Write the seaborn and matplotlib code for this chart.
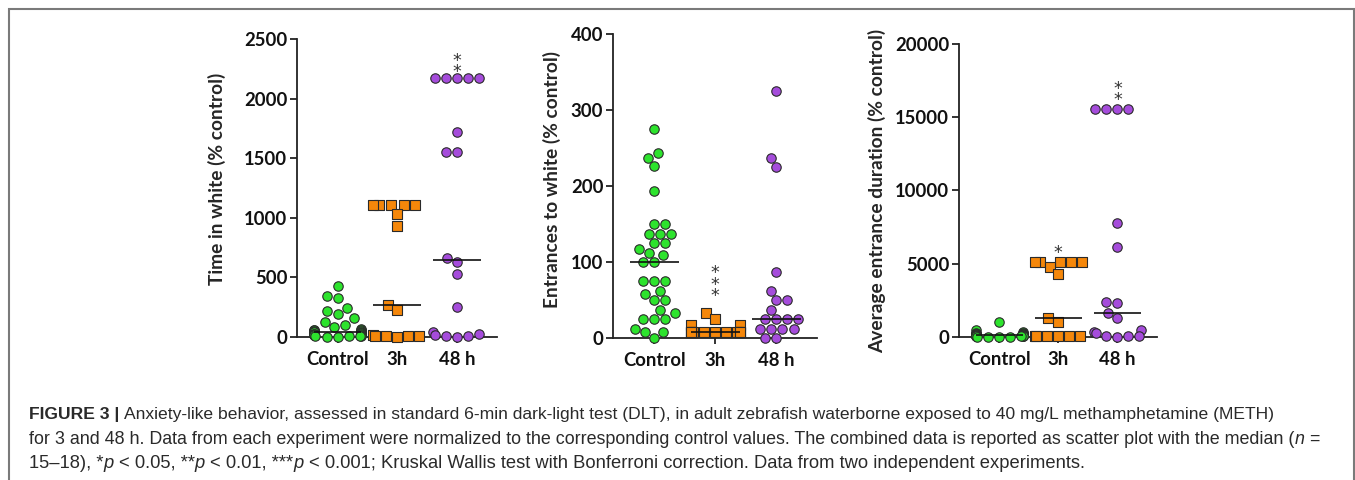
import warnings
warnings.filterwarnings("ignore")
import numpy as np
import pandas as pd
import matplotlib
matplotlib.use("Agg")
import matplotlib.pyplot as plt
from matplotlib.patches import Rectangle
from matplotlib import font_manager
import seaborn as sns

# ---------------- data ----------------
categories = ["Control", "3h", "48 h"]

time_control = [425, 346, 325, 240, 221, 193, 157, 128, 101, 85, 70, 62, 58, 55, 50, 48, 45,
                42, 40, 36, 32, 28, 25, 22, 20, 17, 15, 12, 10, 8, 5, 3, 0]
time_3h = [1105, 1105, 1105, 1105, 1105, 1035, 934, 266, 224, 15, 12, 10, 8, 5, 3]
time_48h = [2170, 2170, 2170, 2170, 2170, 1720, 1555, 1550, 665, 628, 530, 250, 45, 25, 18, 12, 5, 0]

entr_control = [275, 243, 237, 226, 193, 150, 150, 137, 137, 137, 125, 125, 117, 112, 109, 100, 100,
                75, 75, 75, 62, 58, 50, 50, 37, 33, 25, 25, 25, 12, 8, 8, 0]
entr_3h = [33.3, 25, 16.7, 16.7, 8.3, 8.3, 8.3, 8.3, 8.3, 8.3, 8.3, 8.3, 8.3, 8.3, 8.3]
entr_48h = [325, 237, 225, 87.5, 62.5, 50, 50, 37.5, 25, 25, 25, 25, 12.5, 12.5, 12.5, 12.5, 0, 0]

dur_control = [1050, 450, 320, 280, 250, 230, 215, 200, 190, 180, 170, 160, 155, 150, 145, 140, 136,
               130, 125, 120, 110, 100, 95, 90, 80, 70, 60, 50, 40, 30, 20, 10, 0]
dur_3h = [5114, 5114, 5114, 5114, 5114, 4773, 4295, 1273, 1000, 90, 80, 70, 60, 50, 40]
dur_48h = [15545, 15545, 15545, 15545, 7773, 6136, 2370, 2300, 1638, 1276, 500, 320, 300, 100, 80, 50, 0]

ylabels = ["Time in white (% control)", "Entrances to white (% control)",
           "Average entrance duration (% control)"]
yticks = [[0, 500, 1000, 1500, 2000, 2500], [0, 100, 200, 300, 400],
          [0, 5000, 10000, 15000, 20000]]

# significance marks: (category index, centre y value, marks)
stars_time = [(2, 2320, "**")]
stars_entr = [(1, 78, "***")]
stars_dur = [(1, 6143, "*"), (2, 16960, "**")]

caption_l1 = [("FIGURE 3 |", dict(weight="bold")),
              (" Anxiety-like behavior, assessed in standard 6-min dark-light test (DLT), in adult zebrafish waterborne exposed to 40 mg/L methamphetamine (METH)", {})]
caption_l2 = [("for 3 and 48 h. Data from each experiment were normalized to the corresponding control values. The combined data is reported as scatter plot with the median (", {}),
              ("n", dict(style="italic")), (" =", {})]
caption_l3 = [("15\u201318), *", {}), ("p", dict(style="italic")), (" < 0.05, **", {}),
              ("p", dict(style="italic")), (" < 0.01, ***", {}), ("p", dict(style="italic")),
              (" < 0.001; Kruskal Wallis test with Bonferroni correction. Data from two independent experiments.", {})]

# ---------------- style ----------------
sns.set_style("ticks")
plt.rcParams["font.family"] = ["Lato", "DejaVu Sans"]

colors = ["#2DE32D", "#F5870A", "#A54CDB"]
markers = ["o", "s", "o"]

W, H = 1355, 480
fig = plt.figure(figsize=(W / 100, H / 100), dpi=100)
fig.patch.set_facecolor("white")

# axes boxes in pixels: left, top, width, height
boxes = [(297, 39, 200, 298), (613, 34, 204, 304), (959, 44, 198, 293)]
label_x = [-0.40, -0.30, -0.415]
label_y = [0.53, 0.52, 0.50]

panels = [(time_control, time_3h, time_48h), (entr_control, entr_3h, entr_48h),
          (dur_control, dur_3h, dur_48h)]
stars = [stars_time, stars_entr, stars_dur]

for i, (vals, box) in enumerate(zip(panels, boxes)):
    l, t, w, h = box
    ax = fig.add_axes([l / W, 1 - (t + h) / H, w / W, h / H])
    df = pd.DataFrame({
        "group": np.concatenate([[c] * len(v) for c, v in zip(categories, vals)]),
        "value": np.concatenate([np.asarray(v, float) for v in vals]),
    })
    for c, col, mk in zip(categories, colors, markers):
        sns.swarmplot(data=df[df["group"] == c], x="group", y="value", order=categories,
                      color=col, marker=mk, size=6.8, edgecolor="#2a2a2a", linewidth=0.8,
                      ax=ax, zorder=3)
    sns.boxplot(data=df, x="group", y="value", order=categories, width=0.8,
                showbox=False, showcaps=False, showfliers=False,
                whiskerprops={"visible": False},
                medianprops={"color": "#111111", "linewidth": 1.2, "zorder": 6},
                ax=ax)
    for coll in ax.collections:
        coll.set_clip_on(False)
    for ln in ax.lines:
        ln.set_clip_on(False)

    ax.set_xlim(-0.68, 2.67)
    ax.set_ylim(yticks[i][0], yticks[i][-1])
    ax.set_yticks(yticks[i])
    ax.set_xticks(range(3))
    ax.set_xticklabels(categories)
    ax.set_xlabel("")
    ax.set_ylabel(ylabels[i], fontsize=13.8, fontweight="bold", va="center")
    ax.yaxis.set_label_coords(label_x[i], label_y[i])
    for sp in ["top", "right"]:
        ax.spines[sp].set_visible(False)
    for sp in ["left", "bottom"]:
        ax.spines[sp].set_color("#222222")
        ax.spines[sp].set_linewidth(1.3)
    ax.tick_params(axis="y", length=5, width=1.2, pad=2, labelsize=13.3, colors="#111111")
    ax.tick_params(axis="x", length=4, width=1.2, pad=6, labelsize=13.3, colors="#111111")
    for lbl in ax.get_xticklabels() + ax.get_yticklabels():
        lbl.set_fontweight("bold")
    ax.patch.set_alpha(0)
    for (xi, yv, s) in stars[i]:
        ax.annotate("\n".join(s), xy=(xi, yv), xytext=(0, -4.3), textcoords="offset points",
                    ha="center", va="center", fontsize=12.5, color="#333333",
                    family="DejaVu Sans", linespacing=0.55, zorder=7)

# ---------------- border and caption ----------------
fig.patches.append(Rectangle((9 / W, -0.05), (1354 - 9) / W, (480 - 9) / H + 0.05,
                             transform=fig.transFigure, fill=False,
                             edgecolor="#7a7a7a", linewidth=1.5))

names = {f.name for f in font_manager.fontManager.ttflist}
cap_family = "Liberation Sans Narrow" if "Liberation Sans Narrow" in names else "Liberation Sans"
renderer = fig.canvas.get_renderer()


def adv_width(text, kw, size):
    probe = fig.text(0, 0, "|" + text + "|", fontsize=size, family=cap_family, **kw)
    ref = fig.text(0, 0, "||", fontsize=size, family=cap_family, **kw)
    wdt = probe.get_window_extent(renderer).width - ref.get_window_extent(renderer).width
    probe.remove()
    ref.remove()
    return wdt


def draw_runs(x0, ybase, runs, size):
    x = x0
    for text, kw in runs:
        lead = len(text) - len(text.lstrip(" "))
        if lead:
            x += adv_width(" " * lead, kw, size)
        body = text.lstrip(" ")
        fig.text(x / W, 1 - ybase / H, body, fontsize=size, family=cap_family,
                 color="#2a2a2a", ha="left", va="baseline", **kw)
        x += adv_width(body, kw, size)


# each caption line is sized so that it ends where it does in the figure
cap_lines = [(caption_l1, 1277, 419), (caption_l2, 1322, 444), (caption_l3, 1083, 468)]
for runs, x_end, yb in cap_lines:
    natural = sum(adv_width(t, kw, 10.0) for t, kw in runs)
    size = 10.0 * (x_end - 29) / natural
    draw_runs(29, yb, runs, size)

fig.savefig("out.png", dpi=100, facecolor="white")
